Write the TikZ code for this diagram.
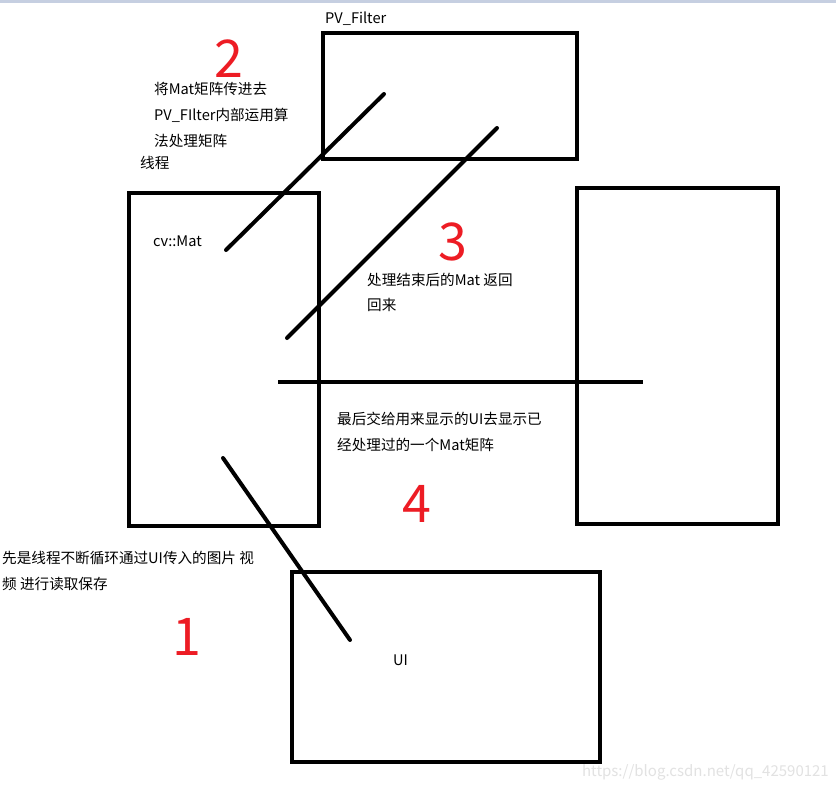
\documentclass[tikz,border=0pt]{standalone}
\usepackage{fontspec}
\setmainfont{Noto Sans CJK SC}
\definecolor{numred}{HTML}{ED1C24}
\definecolor{topbar}{HTML}{C6CFE1}
\definecolor{wm}{HTML}{E2E2E2}
\begin{document}
\begin{tikzpicture}[x=1pt,y=-1pt,
  box/.style={draw=black,line width=4pt},
  stroke/.style={draw=black,line width=4pt,line cap=round},
  lbl/.style={anchor=west,inner sep=0pt,font=\fontsize{14.6}{17}\selectfont},
  num/.style={inner sep=0pt,text=numred,font=\fontsize{52}{60}\selectfont}]
\useasboundingbox (0,0) rectangle (836,790);
\fill[white] (0,0) rectangle (836,790);
\fill[topbar] (0,0) rectangle (836,3);
% boxes
\draw[box] (323,33) rectangle (577,159);
\draw[box] (129,193) rectangle (319,526);
\draw[box] (577,188) rectangle (778,524);
\draw[box] (292,572) rectangle (600,762);
% strokes
\coordinate (a1) at (384,94); \coordinate (a2) at (226,250);
\coordinate (b1) at (497,128); \coordinate (b2) at (287,338);
\coordinate (c1) at (278,382); \coordinate (c2) at (643,382);
\coordinate (d1) at (223,458); \coordinate (d2) at (350,640);
\draw[stroke] (a1) -- (a2);
\draw[stroke] (b1) -- (b2);
\draw[line width=4pt] (c1) -- (c2);
\draw[stroke] (d1) -- (d2);
% labels
\node[lbl] (pv) at (325,19) {PV\_Filter};
\node[num] (n2) at (229,59) {2};
\node[lbl] (t2a) at (154,89) {将Mat矩阵传进去};
\node[lbl] (t2b) at (154,115) {PV\_FIlter内部运用算};
\node[lbl] (t2c) at (154,141) {法处理矩阵};
\node[lbl] (t2d) at (140,163) {线程};
\node[lbl] (mat) at (153,241) {cv::Mat};
\node[num] (n3) at (453,242) {3};
\node[lbl] (t3a) at (367,280) {处理结束后的Mat 返回};
\node[lbl] (t3b) at (367,305) {回来};
\node[lbl] (t4a) at (337,419) {最后交给用来显示的UI去显示已};
\node[lbl] (t4b) at (337,445) {经处理过的一个Mat矩阵};
\node[num] (n4) at (417,504) {4};
\node[lbl] (t1a) at (2,558) {先是线程不断循环通过UI传入的图片 视};
\node[lbl] (t1b) at (2,584) {频 进行读取保存};
\node[num] (n1) at (187,637) {1};
\node[lbl] (ui) at (393,660) {UI};
\node[anchor=east,inner sep=0pt,text=wm,font=\fontsize{15}{17}\selectfont] (wmk) at (829,772) {https://blog.csdn.net/qq\_42590121};
\end{tikzpicture}
\end{document}
